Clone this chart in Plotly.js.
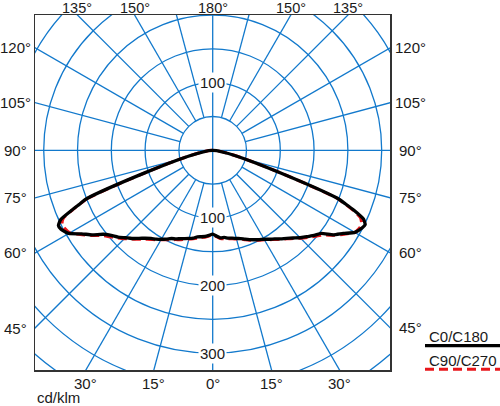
<!DOCTYPE html>
<html>
<head>
<meta charset="utf-8">
<script src="https://cdn.plot.ly/plotly-3.0.1.min.js"></script>
<style>
html,body{margin:0;padding:0;background:#fff;overflow:hidden;}
#chart{width:500px;height:406px;}
</style>
</head>
<body>
<div id="chart"></div>
<script>
// ---- data (cd/klm) ----
const gammaAngles = [0,2.5,5,7.5,10,12.5,15,17.5,20,22.5,25,27.5,30,32.5,35,37.5,40,42.5,45,47.5,50,52.5,55,57.5,60,62.5,64,65.5,67,68,69,70];
const intensityC0   = [124,127,130,130,132,133,135,137,140,143,146,149,152,156,160,165,170,176,183,189,196,202,218,229,243,249,251,245,227,212,197,0];
const intensityC180 = [124,126,128,129,130,133,135,137,139,142,144,148,152,156,159,164,170,177,183,190,196,204,218,230,246,253,254,247,226,212,200,0];
const intensityC90  = [125,128,131,132,133,134,136,138,141,144,147,150,153,157,161,166,171,177,184,191,198,206,219,231,243,246,245,240,224,210,195,0];
const intensityC270 = [125,127,129,130,132,134,136,138,141,143,146,149,153,157,161,166,172,178,185,192,199,207,220,232,244,248,248,243,225,211,198,0];
const seriesNames = ['C0/C180','C90/C270'];

// grid / labels
const ringValues = [50,100,150,200,250,300,350,400];
const spokeAngles = [0,15,30,45,60,75,90,105,120,135,150,165,180,195,210,225,240,255,270,285,300,315,330,345];
const topLabelAngles = [-135,-150,180,150,135];
const bottomLabelAngles = [-30,-15,0,15,30];
const sideLabelAngles = [120,105,90,75,60,45];
const upperRadialLabels = [100];
const lowerRadialLabels = [100,200,300];
const unitLabel = 'cd/klm';

// ---- geometry ----
const XMIN = -262.9, XMAX = 262.3, YMIN = -325.0, YMAX = 200.1;
const rad = d => d*Math.PI/180;

function curveXY(gam, leftI, rightI){
  const x=[], y=[];
  for(let i=gam.length-1;i>=0;i--){ x.push(-leftI[i]*Math.sin(rad(gam[i]))); y.push(-leftI[i]*Math.cos(rad(gam[i]))); }
  for(let i=1;i<gam.length;i++){ x.push(rightI[i]*Math.sin(rad(gam[i]))); y.push(-rightI[i]*Math.cos(rad(gam[i]))); }
  return {x,y};
}

const gridColor = 'rgb(18,121,204)';
const shapes = [];
ringValues.forEach(r=>{
  shapes.push({type:'circle',xref:'x',yref:'y',x0:-r,x1:r,y0:-r,y1:r,layer:'below',line:{color:gridColor,width:1.3}});
});
spokeAngles.forEach(a=>{
  const r0 = (a % 90 === 0) ? 0 : ringValues[0];
  const r1 = 700;
  shapes.push({type:'line',xref:'x',yref:'y',
    x0:r0*Math.sin(rad(a)), y0:-r0*Math.cos(rad(a)),
    x1:r1*Math.sin(rad(a)), y1:-r1*Math.cos(rad(a)),
    layer:'below',line:{color:gridColor,width:1.3}});
});

// legend sample lines (paper coords)
const L = 35, T = 15, W = 355, H = 355;
const px2x = px => (px-L)/W;
const py2y = py => (T+H-py)/H;
shapes.push({type:'line',xref:'paper',yref:'paper',x0:px2x(425),x1:px2x(502),y0:py2y(345.7),y1:py2y(345.7),line:{color:'#000',width:3.3}});
shapes.push({type:'line',xref:'paper',yref:'paper',x0:px2x(425),x1:px2x(502),y0:py2y(369.3),y1:py2y(369.3),line:{color:'#e8161b',width:3,dash:'9px,5px'}});

const font = {family:'"Liberation Sans", Arial, sans-serif', size:15, color:'#1a1a1a'};
const fontTop = Object.assign({}, font, {size:14.5});
const ann = [];
topLabelAngles.forEach(a=>{
  const c = -Math.cos(rad(a)); const t = YMAX/c;
  ann.push({x:Math.sin(rad(a))*t, y:YMAX, xref:'x', yref:'y', text:Math.abs(a)+'°', showarrow:false, xanchor:'center', yanchor:'middle', yshift:7, borderpad:0, font:fontTop});
});
bottomLabelAngles.forEach(a=>{
  const c = -Math.cos(rad(a)); const t = YMIN/c;
  ann.push({x:Math.sin(rad(a))*t, y:YMIN, xref:'x', yref:'y', text:Math.abs(a)+'°', showarrow:false, xanchor:'center', yanchor:'middle', yshift:-13.5, font});
});
sideLabelAngles.forEach(a=>{
  const yl = -Math.cos(rad(a))*(-XMIN)/Math.sin(rad(a));
  const yr = -Math.cos(rad(a))*(XMAX)/Math.sin(rad(a));
  ann.push({x:XMIN, y:yl, xref:'x', yref:'y', text:a+'°', showarrow:false, xanchor:'center', yanchor:'middle', xshift:-19.5, font});
  ann.push({x:XMAX, y:yr, xref:'x', yref:'y', text:a+'°', showarrow:false, xanchor:'center', yanchor:'middle', xshift:20, font});
});
upperRadialLabels.forEach(v=>{
  ann.push({x:0, y:v, xref:'x', yref:'y', text:String(v), showarrow:false, bgcolor:'#fff', borderpad:1, font});
});
lowerRadialLabels.forEach(v=>{
  ann.push({x:0, y:-v, xref:'x', yref:'y', text:String(v), showarrow:false, bgcolor:'#fff', borderpad:1, font});
});
ann.push({x:px2x(35.5), y:py2y(397.5), xref:'paper', yref:'paper', text:unitLabel, showarrow:false, xanchor:'left', yanchor:'middle', borderpad:0, font});
ann.push({x:px2x(427), y:py2y(336.7), xref:'paper', yref:'paper', text:seriesNames[0], showarrow:false, xanchor:'left', yanchor:'middle', font});
ann.push({x:px2x(427), y:py2y(360.7), xref:'paper', yref:'paper', text:seriesNames[1], showarrow:false, xanchor:'left', yanchor:'middle', font});

const red = curveXY(gammaAngles, intensityC270, intensityC90);
const blk = curveXY(gammaAngles, intensityC180, intensityC0);

const data = [
  {type:'scatter', mode:'lines', x:red.x, y:red.y, name:seriesNames[1], line:{color:'#e8161b', width:3, dash:'9px,5px', shape:'spline', smoothing:0.5}, hoverinfo:'skip'},
  {type:'scatter', mode:'lines', x:blk.x, y:blk.y, name:seriesNames[0], line:{color:'#000', width:3.3, shape:'spline', smoothing:0.5}, hoverinfo:'skip'}
];

const axisCommon = {showgrid:false, zeroline:false, showticklabels:false, ticks:'', showline:true, mirror:true, linecolor:'#333', linewidth:1.5, fixedrange:true};
const layout = {
  width:500, height:406,
  margin:{l:L, r:500-L-W, t:T, b:406-T-H, pad:0},
  paper_bgcolor:'#fff', plot_bgcolor:'#fff',
  showlegend:false,
  xaxis:Object.assign({range:[XMIN,XMAX]}, axisCommon),
  yaxis:Object.assign({range:[YMIN,YMAX]}, axisCommon),
  shapes, annotations:ann, font
};
Plotly.newPlot('chart', data, layout, {staticPlot:true, displayModeBar:false});
</script>
</body>
</html>
